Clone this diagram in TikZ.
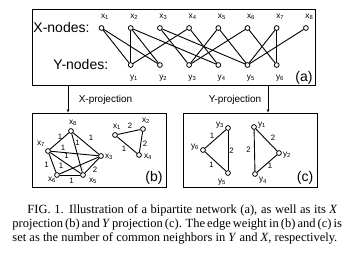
\documentclass[tikz,border=0pt]{standalone}
\usepackage{fontspec}
\setmainfont{Liberation Serif}
\newfontfamily\diagfont{Liberation Sans}
\usetikzlibrary{arrows.meta}

\tikzset{
  vtx/.style={circle,draw,line width=0.8pt,inner sep=0pt,minimum size=4.8pt,fill=white},
  lbl/.style={font=\diagfont\fontsize{8.3}{8.3}\selectfont,inner sep=0pt},
  wgt/.style={font=\diagfont\fontsize{7.8}{7.8}\selectfont,inner sep=0pt},
  big/.style={font=\diagfont\fontsize{14}{14}\selectfont,inner sep=0pt},
  mid/.style={font=\diagfont\fontsize{10}{10}\selectfont,inner sep=0pt},
  panel/.style={draw,line width=0.9pt,inner sep=0pt},
  capline/.style={font=\fontsize{12.5}{14}\selectfont,inner sep=0pt,anchor=base west}
}
\newcommand{\vlab}[2]{#1\textsubscript{#2}}

\begin{document}
\begin{tikzpicture}[x=1pt,y=-1pt,line width=0.9pt]
\useasboundingbox (0,0) rectangle (353,258);

% panels
\node[panel,minimum width=283pt,minimum height=76pt] (boxa) at (173.5,47) {};
\node[panel,minimum width=134pt,minimum height=74pt] (boxb) at (99,150) {};
\node[panel,minimum width=134pt,minimum height=74pt] (boxc) at (250,150) {};

% (a) bipartite network
\node[big,anchor=west] (xnodes) at (33,27.5) {X-nodes:};
\node[big,anchor=west] (ynodes) at (53,64.5) {Y-nodes:};
\node[big] (taga) at (304,77.5) {(a)};
\foreach \i in {1,...,8} {
  \node[vtx] (x\i) at ({101.5+29.2*(\i-1)},28) {};
  \node[lbl] (lx\i) at ({105+29.2*(\i-1)},17) {\vlab{x}{\i}};
}
\foreach \j in {1,...,6} {
  \node[vtx] (y\j) at ({130.7+29.2*(\j-1)},65) {};
  \node[lbl] (ly\j) at ({134+29.2*(\j-1)},78) {\vlab{y}{\j}};
}
\foreach \a/\b in {1/1,1/2,2/1,2/2,2/4,3/3,3/5,4/1,4/4,5/3,5/5,6/3,6/6,7/5,7/6,8/5}
  \draw (x\a) -- (y\b);

% projections
\coordinate (xfrom) at (68,85);
\coordinate (yfrom) at (268,85);
\draw[-{Stealth[length=3.5pt,width=2.6pt]}] (xfrom) -- (xfrom |- boxb.north);
\draw[-{Stealth[length=3.5pt,width=2.6pt]}] (yfrom) -- (yfrom |- boxc.north);
\node[mid] (xproj) at (105.5,99.5) {X-projection};
\node[mid] (yproj) at (235,99.5) {Y-projection};

% (b) X projection
\node[vtx] (bx8) at (71,131) {};
\node[vtx] (bx7) at (48,151) {};
\node[vtx] (bx3) at (101,156) {};
\node[vtx] (bx6) at (57,175) {};
\node[vtx] (bx5) at (83,175) {};
\node[vtx] (bx1) at (115,135) {};
\node[vtx] (bx2) at (143,129) {};
\node[vtx] (bx4) at (139,155) {};
\node[lbl] (lbx8) at (73,123) {\vlab{x}{8}};
\node[lbl] (lbx7) at (41,143.5) {\vlab{x}{7}};
\node[lbl] (lbx3) at (109,157) {\vlab{x}{3}};
\node[lbl] (lbx6) at (52,180) {\vlab{x}{6}};
\node[lbl] (lbx5) at (93,181) {\vlab{x}{5}};
\node[lbl] (lbx1) at (117,127) {\vlab{x}{1}};
\node[lbl] (lbx2) at (146,120.5) {\vlab{x}{2}};
\node[lbl] (lbx4) at (148,157) {\vlab{x}{4}};
\foreach \a/\b in {8/7,8/3,8/5,7/3,7/5,7/6,6/3,6/5,3/5,1/2,2/4,1/4}
  \draw (bx\a) -- (bx\b);
\node[wgt] (w87) at (60,136.5) {1};
\node[wgt] (w83) at (91,138) {1};
\node[wgt] (w85) at (77.5,143) {1};
\node[wgt] (w73) at (63,147.5) {1};
\node[wgt] (w75) at (66.5,155.5) {1};
\node[wgt] (w76) at (46.5,165) {1};
\node[wgt] (w63) at (61,166) {1};
\node[wgt] (w65) at (71.5,181) {1};
\node[wgt] (w35) at (95,170) {2};
\node[wgt] (w12) at (130,126) {2};
\node[wgt] (w24) at (145,144) {2};
\node[wgt] (w14) at (124,149) {1};
\node[big] (tagb) at (154,177.5) {(b)};

% (c) Y projection
\node[vtx] (cy3) at (228,128) {};
\node[vtx] (cy6) at (203,150) {};
\node[vtx] (cy5) at (228,173) {};
\node[vtx] (cy1) at (254,127) {};
\node[vtx] (cy2) at (279,153) {};
\node[vtx] (cy4) at (255,174) {};
\node[lbl] (lcy3) at (220,125) {\vlab{y}{3}};
\node[lbl] (lcy6) at (195,147) {\vlab{y}{6}};
\node[lbl] (lcy5) at (222,182) {\vlab{y}{5}};
\node[lbl] (lcy1) at (262,125) {\vlab{y}{1}};
\node[lbl] (lcy2) at (287,155) {\vlab{y}{2}};
\node[lbl] (lcy4) at (263,180.5) {\vlab{y}{4}};
\foreach \a/\b in {3/6,3/5,6/5,1/2,1/4,2/4}
  \draw (cy\a) -- (cy\b);
\node[wgt] (v36) at (212,136) {1};
\node[wgt] (v35) at (231.5,150.5) {2};
\node[wgt] (v65) at (211.5,164.5) {1};
\node[wgt] (v12) at (273,137.5) {2};
\node[wgt] (v14) at (248.5,149.5) {2};
\node[wgt] (v24) at (270,165.5) {1};
\node[big] (tagc) at (305,177.5) {(c)};

% caption
\node[capline] (cap1) at (27,213) {\makebox[310pt][s]{FIG. 1. Illustration of a bipartite network (a), as well as its \textit{X}}};
\node[capline] (cap2) at (12,227) {\makebox[325pt][s]{projection (b) and \textit{Y} projection (c). The edge weight in (b) and (c) is}};
\node[capline] (cap3) at (12,241) {set as the number of common neighbors in \textit{Y} and \textit{X}, respectively.};
\end{tikzpicture}
\end{document}
